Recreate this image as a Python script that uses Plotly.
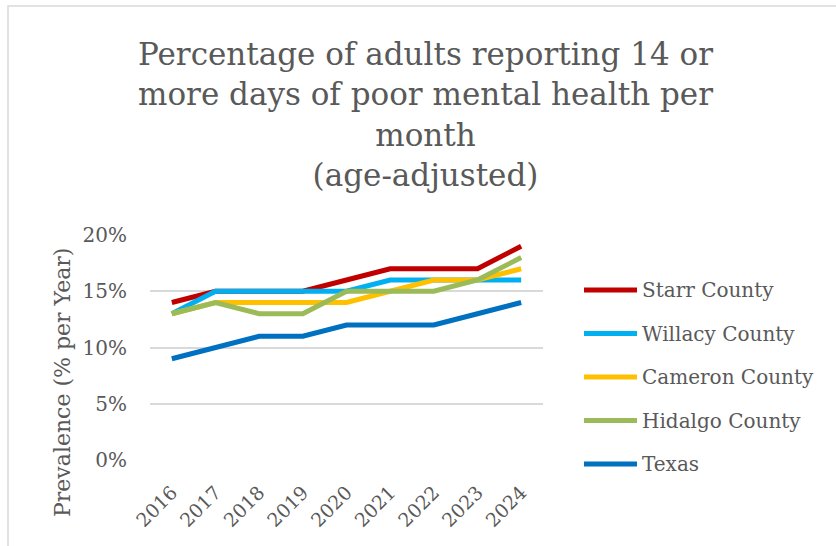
import plotly.graph_objects as go

# Survey years and age-adjusted prevalence (fraction of adults)
years = ["2016", "2017", "2018", "2019", "2020", "2021", "2022", "2023", "2024"]
starr = [0.14, 0.15, 0.15, 0.15, 0.16, 0.17, 0.17, 0.17, 0.19]
willacy = [0.13, 0.15, 0.15, 0.15, 0.15, 0.16, 0.16, 0.16, 0.16]
cameron = [0.13, 0.14, 0.14, 0.14, 0.14, 0.15, 0.16, 0.16, 0.17]
hidalgo = [0.13, 0.14, 0.13, 0.13, 0.15, 0.15, 0.15, 0.16, 0.18]
texas = [0.09, 0.10, 0.11, 0.11, 0.12, 0.12, 0.12, 0.13, 0.14]

series_names = ["Starr County", "Willacy County", "Cameron County", "Hidalgo County", "Texas"]
series_values = [starr, willacy, cameron, hidalgo, texas]
series_colors = ["#C00000", "#00B0F0", "#FFC000", "#9BBB59", "#0070C0"]

FONT = "DejaVu Serif"
TEXT = "#595959"

W, H = 836, 546
ML, MR, MT, MB = 150, 293, 235, 86
PW, PH = W - ML - MR, H - MT - MB

fig = go.Figure()
for name, vals, col in zip(series_names, series_values, series_colors):
    fig.add_trace(go.Scatter(
        x=years, y=vals, name=name, mode="lines",
        line=dict(color=col, width=5), showlegend=False,
    ))

def px_x(p):
    return (p - ML) / PW

def px_y(p):
    return (H - MB - p) / PH

shapes = []
annotations = []

# Outer chart frame (open on the right and bottom edges of the page)
shapes.append(dict(type="path", xref="paper", yref="paper",
                   path=f"M {px_x(900)} {px_y(6)} L {px_x(8)} {px_y(6)} L {px_x(8)} {px_y(600)}",
                   line=dict(color="#d9d9d9", width=1.5), layer="below"))

# Chart title
annotations.append(dict(
    xref="paper", yref="paper", x=px_x(425), y=px_y(115),
    xanchor="center", yanchor="middle", showarrow=False,
    text="Percentage of adults reporting 14 or<br>more days of poor mental health per<br>month<br>(age-adjusted)",
    font=dict(family=FONT, size=31, color=TEXT),
))

# Vertical axis title
annotations.append(dict(
    xref="paper", yref="paper", x=px_x(62), y=px_y(383),
    xanchor="center", yanchor="middle", showarrow=False, textangle=-90,
    text="Prevalence (% per Year)",
    font=dict(family=FONT, size=22, color=TEXT),
))

# Legend drawn as line swatches with labels
leg_y0, leg_dy = 290, 43.5
for i, (name, col) in enumerate(zip(series_names, series_colors)):
    yy = px_y(leg_y0 + i * leg_dy)
    shapes.append(dict(type="line", xref="paper", yref="paper",
                       x0=px_x(584), x1=px_x(637), y0=yy, y1=yy,
                       line=dict(color=col, width=5)))
    annotations.append(dict(xref="paper", yref="paper", x=px_x(640), y=yy,
                            xanchor="left", yanchor="middle", text=name,
                            showarrow=False, font=dict(family=FONT, size=20, color=TEXT)))

fig.update_layout(
    width=W, height=H,
    margin=dict(l=ML, r=MR, t=MT, b=MB),
    paper_bgcolor="white", plot_bgcolor="white",
    shapes=shapes,
    annotations=annotations,
    xaxis=dict(
        type="category", range=[-0.5, len(years) - 0.5],
        showgrid=False, showline=False, zeroline=False,
        tickangle=-45, tickfont=dict(family=FONT, size=19, color=TEXT),
        ticks="outside", ticklen=13, tickcolor="rgba(0,0,0,0)",
    ),
    yaxis=dict(
        range=[0, 0.2], dtick=0.05, tickformat=".0%",
        showgrid=True, gridcolor="#d9d9d9", gridwidth=1.5,
        zeroline=False, showline=False,
        ticks="outside", ticklen=18, tickcolor="rgba(0,0,0,0)",
        tickfont=dict(family=FONT, size=20, color=TEXT),
    ),
)

fig.write_html("out.html")
